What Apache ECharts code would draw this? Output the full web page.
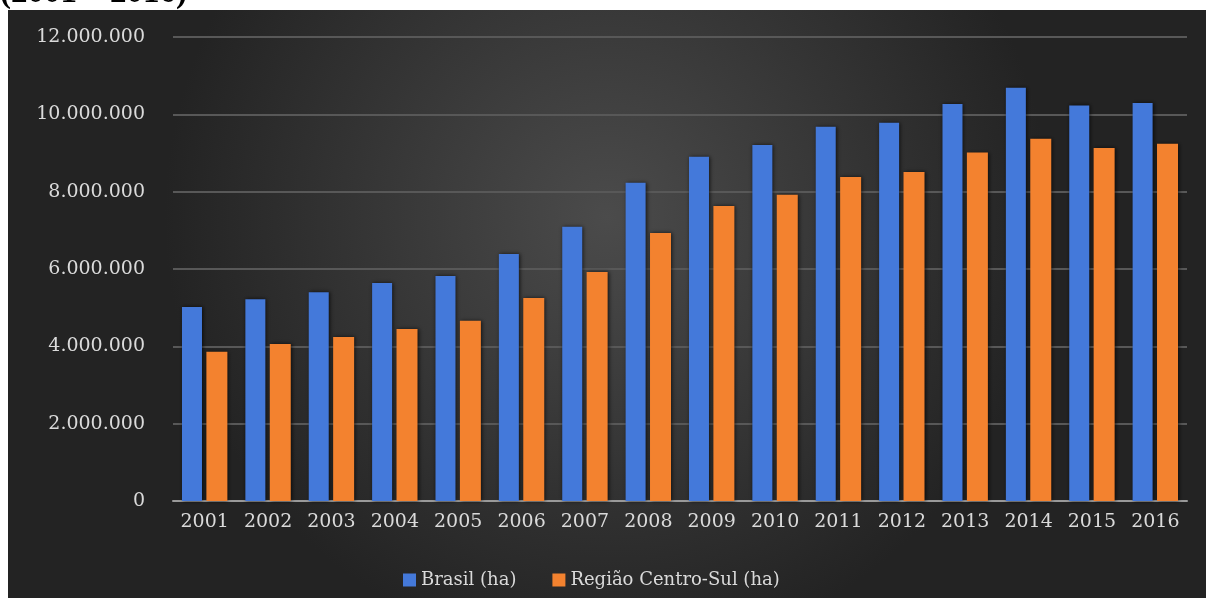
<!DOCTYPE html>
<html><head><meta charset="utf-8">
<script src="https://cdn.jsdelivr.net/npm/echarts@6/dist/echarts.min.js"></script>
<style>html,body{margin:0;padding:0;background:#fff;}#c{width:1214px;height:598px;}</style>
</head><body><div id="c"></div>
<script>
const years = ['2001','2002','2003','2004','2005','2006','2007','2008','2009','2010','2011','2012','2013','2014','2015','2016'];
const brasil = [5020000,5220000,5400000,5640000,5820000,6390000,7090000,8230000,8900000,9210000,9680000,9780000,10270000,10690000,10230000,10290000];
const centroSul = [3860000,4060000,4240000,4450000,4660000,5250000,5920000,6930000,7630000,7920000,8380000,8510000,9010000,9370000,9130000,9240000];
const yTicks = [0,2000000,4000000,6000000,8000000,10000000,12000000];
const titleText = '(2001 – 2016)';

function fmt(v){ return String(v).replace(/\B(?=(\d{3})+(?!\d))/g,'.'); }

const chart = echarts.init(document.getElementById('c'), null, {renderer:'canvas'});
const txt = '#dadada';
const ff = '"DejaVu Serif", serif';
chart.setOption({
  animation:false,
  graphic:[
    {type:'rect', z:-10, shape:{x:8,y:10,width:1198,height:590},
     style:{fill:{type:'radial',x:0.5,y:0.35,r:0.75,colorStops:[{offset:0,color:'#4b4b4b'},{offset:1,color:'#232323'}]}}},
    {type:'text', left:0, top:-23, z:10, style:{text:titleText, font:'bold 33px "Liberation Serif", serif', fill:'#000'}}
  ],
  grid:{left:173, right:27, top:37, bottom:97, containLabel:false},
  legend:{left:398, top:566, itemWidth:13, itemHeight:13, itemGap:36, itemTextGap:4,
    textStyle:{color:txt, fontFamily:ff, fontSize:18},
    data:[{name:'Brasil (ha)', icon:'rect'},{name:'Região Centro-Sul (ha)', icon:'rect'}]},
  xAxis:{type:'category', data:years,
    axisLine:{lineStyle:{color:'#9a9a9a', width:2}}, axisTick:{show:false},
    axisLabel:{color:txt, fontFamily:ff, fontSize:19, margin:12}},
  yAxis:{type:'value', min:0, max:12000000, interval:2000000,
    axisLine:{show:false}, axisTick:{show:false},
    splitLine:{lineStyle:{color:'#585858', width:2}},
    axisLabel:{color:txt, fontFamily:ff, fontSize:19, margin:28, formatter:v=>fmt(v)}},
  series:[
    {name:'Brasil (ha)', type:'bar', data:brasil, barWidth:20, barGap:'22%',
     itemStyle:{color:'#4479da', shadowBlur:4, shadowColor:'rgba(0,0,0,0.7)', shadowOffsetX:1}},
    {name:'Região Centro-Sul (ha)', type:'bar', data:centroSul, barWidth:21,
     itemStyle:{color:'#f3822f', shadowBlur:4, shadowColor:'rgba(0,0,0,0.7)', shadowOffsetX:1}}
  ]
});
</script></body></html>
